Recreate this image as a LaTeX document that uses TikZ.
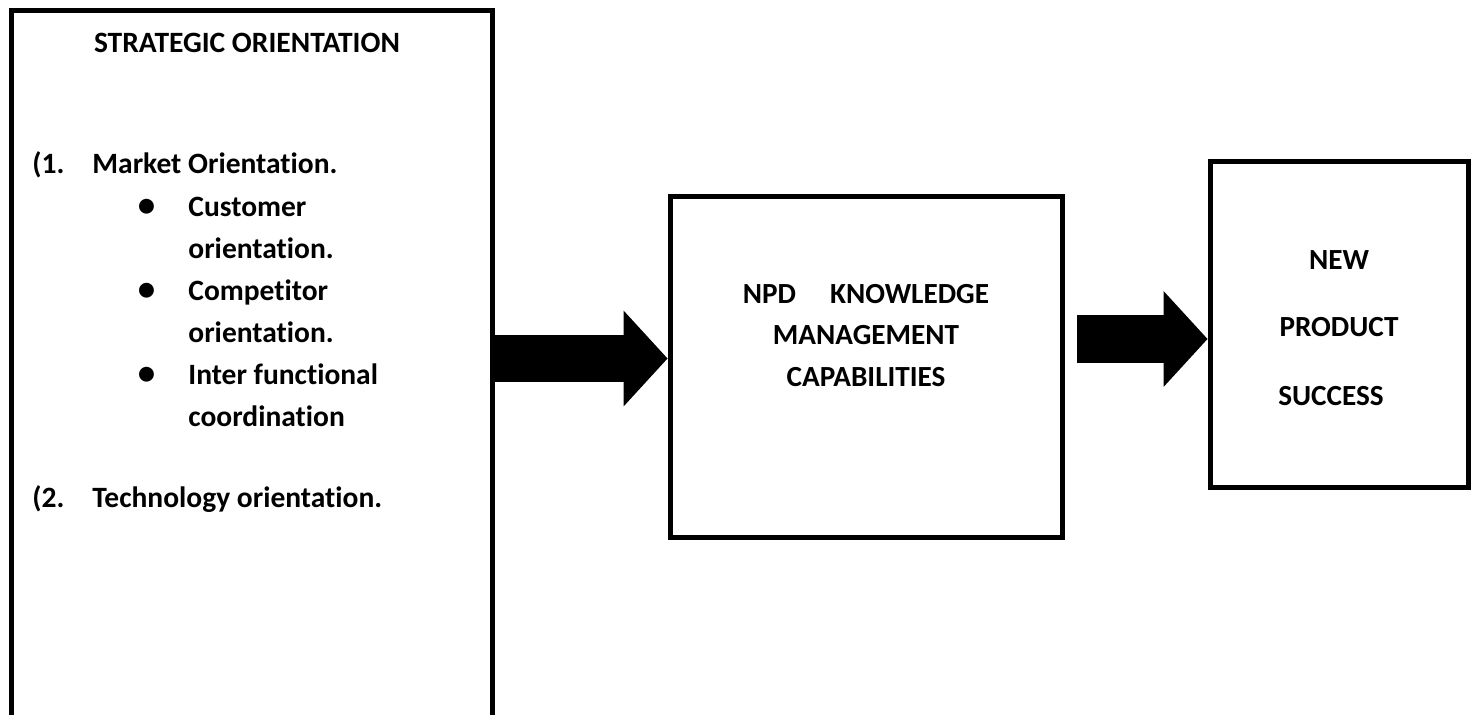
\documentclass[tikz,border=0pt]{standalone}
\usepackage{fontspec}
\setmainfont{Carlito}[Ligatures=NoCommon]
\usetikzlibrary{arrows.meta}

\tikzset{
  boxline/.style={line width=2.5pt},
  bigtext/.style={font=\fontsize{14.75}{18}\selectfont\bfseries, inner sep=0pt},
  midtext/.style={font=\fontsize{14.6}{18}\selectfont\bfseries, inner sep=0pt},
  dot/.style={font=\fontsize{21}{22}\selectfont, inner sep=0pt},
}

\begin{document}
\begin{tikzpicture}[x=0.5pt, y=-0.5pt, >={Triangle[length=22pt, width=48pt, line width=0pt]}]
\useasboundingbox (0,0) rectangle (1476,715);
%
\draw[boxline] (11,730) -- (11,11) -- (492,11) -- (492,730);
\draw (247,53) node[bigtext, anchor=base] (sotitle) {STRATEGIC ORIENTATION};
%
\draw (32,174) node[bigtext, anchor=base west] (n1) {(1.};
\draw (n1.base west)++(60,0) node[bigtext, anchor=base west] (mo) {Market Orientation.};
\draw (mo.base west)++(55,45) node[dot, anchor=base] (b1) {\textbullet};
\draw (b1.base)++(41,-2) node[bigtext, anchor=base west] (cu1) {Customer};
\draw (cu1.base west)++(0,42) node[bigtext, anchor=base west] (cu2) {orientation.};
\draw (b1.base)++(0,84) node[dot, anchor=base] (b2) {\textbullet};
\draw (b2.base)++(41,-2) node[bigtext, anchor=base west] (cp1) {Competitor};
\draw (cp1.base west)++(0,42) node[bigtext, anchor=base west] (cp2) {orientation.};
\draw (b2.base)++(0,84) node[dot, anchor=base] (b3) {\textbullet};
\draw (b3.base)++(41,-2) node[bigtext, anchor=base west] (if1) {Inter functional};
\draw (if1.base west)++(0,42) node[bigtext, anchor=base west] (if2) {coordination};
%
\draw (n1.base west)++(0,334) node[bigtext, anchor=base west] (n2) {(2.};
\draw (n2.base west)++(60,0) node[bigtext, anchor=base west] (to) {Technology orientation.};
%
\node[boxline, draw, minimum width=196pt, minimum height=170pt] (npd) at (866,367) {};
\draw (866,304) node[midtext, anchor=base] (k1) {NPD\hspace{17pt}KNOWLEDGE};
\draw (k1.base)++(0,41) node[midtext, anchor=base] (k2) {MANAGEMENT};
\draw (k2.base)++(0,42) node[midtext, anchor=base] (k3) {CAPABILITIES};
%
\node[boxline, draw, minimum width=129pt, minimum height=162.5pt] (nps) at (1339,324.5) {};
\draw (1339,270) node[midtext, anchor=base] (p1) {NEW};
\draw (p1.base)++(0,67) node[midtext, anchor=base] (p2) {PRODUCT};
\draw (p2.base)++(-8,69) node[midtext, anchor=base] (p3) {SUCCESS};
%
\coordinate (a1) at (492,358.5);
\path[draw, ->, line width=23.5pt] (a1) -- (a1 -| npd.west);
\coordinate (a2) at (1077,339);
\path[draw, ->, line width=24pt] (a2) -- (a2 -| nps.west);
\end{tikzpicture}
\end{document}
